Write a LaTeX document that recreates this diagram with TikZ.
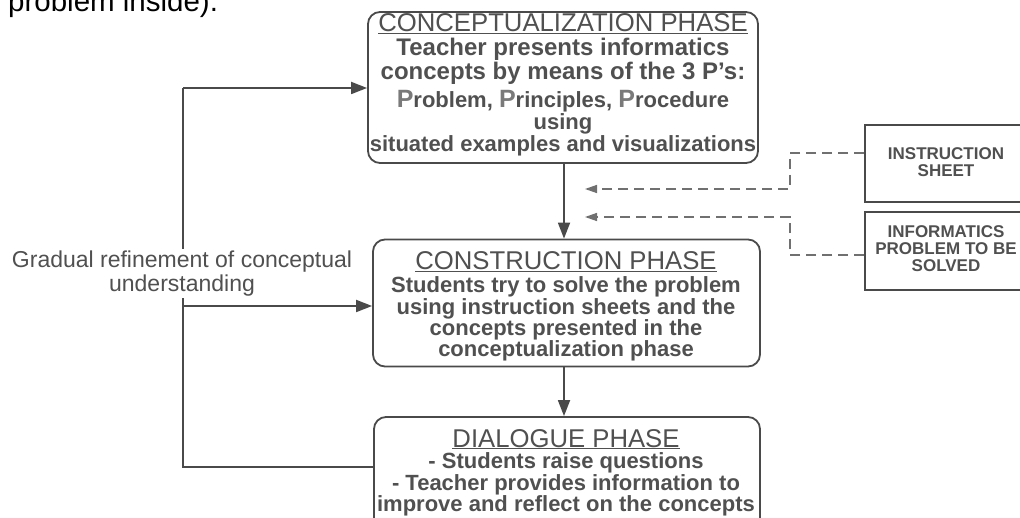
\documentclass[tikz,border=0pt]{standalone}
\usepackage{fontspec}
\setmainfont{Liberation Sans}
\usetikzlibrary{arrows.meta,calc}
\definecolor{ink}{HTML}{4A4A4A}
\definecolor{txt}{HTML}{505050}
\definecolor{dsh}{HTML}{707070}
\definecolor{pp}{HTML}{7A7A7A}
\newcommand{\bigP}{{\color{pp}\fontsize{25}{25}\selectfont P}}
\tikzset{
  phasebox/.style={draw=ink, line width=1.8pt, rounded corners=12pt, inner sep=0pt},
  sidebox/.style={draw=ink, line width=1.6pt, inner sep=0pt},
  ttl/.style={anchor=base, text=txt, inner sep=0pt, font=\fontsize{25.7}{27}\selectfont},
  bod/.style={anchor=base, text=txt, inner sep=0pt, font=\bfseries\fontsize{22}{24}\selectfont},
  big/.style={anchor=base, text=txt, inner sep=0pt, font=\bfseries\fontsize{24}{26}\selectfont},
  sid/.style={anchor=base, text=txt, inner sep=0pt, font=\bfseries\fontsize{17}{18}\selectfont},
  lab/.style={anchor=base, text=txt, inner sep=0pt, font=\fontsize{23}{24}\selectfont},
  solidarrow/.style={draw=ink, line width=1.8pt, -{Triangle[length=16pt,width=12pt]}},
  solidline/.style={draw=ink, line width=1.8pt},
  dasharrow/.style={draw=dsh, line width=1.4pt, dash pattern=on 10pt off 6pt, -{Triangle[length=12pt,width=8pt]}}
}
\begin{document}
\begin{tikzpicture}[x=1pt,y=-1pt]
\clip (0,0) rectangle (1020,518);
\fill[white] (0,0) rectangle (1020,518);

% caption fragment at top
\node[anchor=base west, inner sep=0pt, font=\fontsize{29.5}{30}\selectfont] (cap) at (8,12) {problem inside).};

% phase boxes
\node[phasebox, minimum width=390pt, minimum height=151pt] (concept) at (563,87.5) {};
\node[phasebox, minimum width=387pt, minimum height=127pt] (constr) at (566.5,303) {};
\node[phasebox, minimum width=386pt, minimum height=113pt] (dialog) at (567,473.5) {};

% conceptualization text
\node[ttl] (c0) at (563,32) {\underline{CONCEPTUALIZATION PHASE}};
\node[big] (c1) at (563,56) {Teacher presents informatics};
\node[big] (c2) at (563,80) {concepts by means of the 3 P’s:};
\node[bod] (c3) at (563,108) {\bigP roblem, \bigP rinciples, \bigP rocedure};
\node[bod] (c4) at (563,130) {using};
\node[bod] (c5) at (563,152) {situated examples and visualizations};

% construction text
\node[ttl] (k0) at (566,270) {\underline{CONSTRUCTION PHASE}};
\node[bod] (k1) at (566,293) {Students try to solve the problem};
\node[bod] (k2) at (566,315) {using instruction sheets and the};
\node[bod] (k3) at (566,336) {concepts presented in the};
\node[bod] (k4) at (566,357) {conceptualization phase};

% dialogue text
\node[ttl] (d0) at (566,447) {\underline{DIALOGUE PHASE}};
\node[bod] (d1) at (566,468) {- Students raise questions};
\node[bod] (d2) at (566,490) {- Teacher provides information to};
\node[bod] (d3) at (566,511) {improve and reflect on the concepts};

% side boxes
\node[sidebox, minimum width=165pt, minimum height=77pt] (b1) at (947.5,163.5) {};
\node[sidebox, minimum width=165pt, minimum height=78pt] (b2) at (947.5,251) {};
\node[sid] (s1) at (946,160) {INSTRUCTION};
\node[sid] (s2) at (946,177) {SHEET};
\node[sid] (s3) at (946,238) {INFORMATICS};
\node[sid] (s4) at (946,255) {PROBLEM TO BE};
\node[sid] (s5) at (946,272) {SOLVED};

% main flow arrows
\draw[solidarrow] (concept.south -| 564,0) -- (constr.north -| 564,0);
\draw[solidarrow] (constr.south -| 564,0) -- (dialog.north -| 564,0);

% feedback loop
\coordinate (lx) at (183,467);
\coordinate (ltop) at (183,88);
\coordinate (lgapt) at (183,249);
\coordinate (lgapb) at (183,298);
\coordinate (lmid) at (183,306);
\draw[solidline] (dialog.west |- lx) -- (lx) -- (lgapb);
\draw[solidline] (lgapt) -- (ltop);
\draw[solidarrow] (ltop) -- (concept.west |- ltop);
\draw[solidarrow] (lmid) -- (constr.west |- lmid);
\node[lab] (g1) at (182,268) {Gradual refinement of conceptual};
\node[lab] (g2) at (182,292) {understanding};

% dashed inputs
\coordinate (t1) at (585,189);
\coordinate (t2) at (585,217);
\draw[dasharrow] ([yshift=10.5pt]b1.west) -- (790,153) -- (790,189) -- (t1);
\draw[dasharrow] ([yshift=-4pt]b2.west) -- (790,255) -- (790,217) -- (t2);
\end{tikzpicture}
\end{document}
